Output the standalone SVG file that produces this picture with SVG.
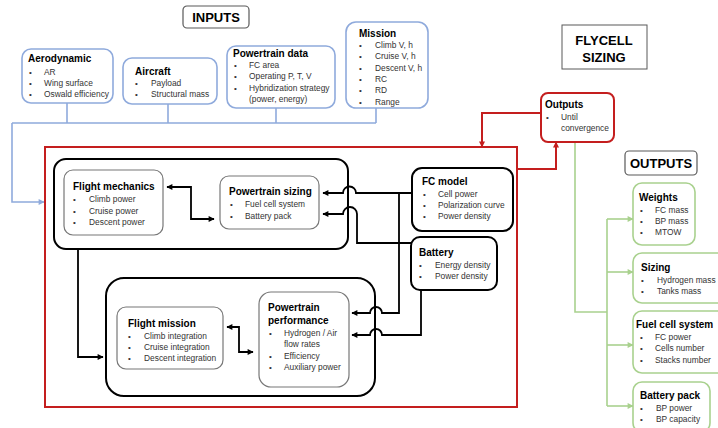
<svg xmlns="http://www.w3.org/2000/svg" width="718" height="428" viewBox="0 0 718 428">
<style>
text{font-family:"Liberation Sans",Arial,sans-serif}
.t{font-size:10px;font-weight:bold;fill:#000}
.h{font-size:13px;font-weight:bold;fill:#000}
.i{font-size:8.4px;fill:#333}
.b{font-size:8px;fill:#333}
.blue{fill:#fff;stroke:#8FAADC;stroke-width:1.6}
.red{fill:#fff;stroke:#C41E1E;stroke-width:2}
.grn{fill:#fff;stroke:#A9D18E;stroke-width:1.6}
.blk{fill:#fff;stroke:#000;stroke-width:2}
.gry{fill:#fff;stroke:#777;stroke-width:1.2}
.lb{fill:none;stroke:#8FAADC;stroke-width:1.6}
.lr{fill:none;stroke:#C41E1E;stroke-width:2}
.lg{fill:none;stroke:#A9D18E;stroke-width:1.6}
.lk{fill:none;stroke:#000;stroke-width:1.8}
</style>
<defs>
<marker id="ak" viewBox="0 0 10 10" refX="9" refY="5" markerWidth="7" markerHeight="6" markerUnits="userSpaceOnUse" orient="auto-start-reverse"><path d="M0 0L10 5L0 10z" fill="#000"/></marker>
<marker id="ar" viewBox="0 0 10 10" refX="9" refY="5" markerWidth="7" markerHeight="6" markerUnits="userSpaceOnUse" orient="auto"><path d="M0 0L10 5L0 10z" fill="#C41E1E"/></marker>
<marker id="ag" viewBox="0 0 10 10" refX="9" refY="5" markerWidth="7" markerHeight="6" markerUnits="userSpaceOnUse" orient="auto"><path d="M0 0L10 5L0 10z" fill="#A9D18E"/></marker>
<marker id="ab" viewBox="0 0 10 10" refX="9" refY="5" markerWidth="7" markerHeight="6" markerUnits="userSpaceOnUse" orient="auto"><path d="M0 0L10 5L0 10z" fill="#8FAADC"/></marker>
</defs>
<rect width="718" height="428" fill="#fff"/>

<g id="connectors">
<path class="lb" d="M67 103V123M168 104V123M276 108V123M376 108V123M12 123H376"/>
<path class="lb" d="M12 123V202H44" marker-end="url(#ab)"/>
<path class="lr" d="M541 113H482V147" marker-end="url(#ar)"/>
<path class="lr" d="M517 169H556V142" marker-end="url(#ar)"/>
<path class="lg" d="M575 142V312H607M607 219V406"/>
<path class="lg" d="M607 219H633" marker-end="url(#ag)"/>
<path class="lg" d="M607 272H633" marker-end="url(#ag)"/>
<path class="lg" d="M607 345H633" marker-end="url(#ag)"/>
<path class="lg" d="M607 406H633" marker-end="url(#ag)"/>
</g>

<g id="inputs-title"><rect x="183" y="6" width="66" height="22" rx="4" fill="#fff" stroke="#595959" stroke-width="1.2"/><text class="h" x="216" y="22" text-anchor="middle">INPUTS</text></g>

<g id="aerodynamic"><rect class="blue" x="22" y="49" width="91" height="54" rx="9"/>
<text class="t" x="28" y="62">Aerodynamic</text>
<text class="b" x="29" y="75">•</text><text class="i" x="44" y="75">AR</text>
<text class="b" x="29" y="86">•</text><text class="i" x="44" y="86">Wing surface</text>
<text class="b" x="29" y="97">•</text><text class="i" x="44" y="97">Oswald efficiency</text></g>

<g id="aircraft"><rect class="blue" x="123" y="58" width="94" height="46" rx="9"/>
<text class="t" x="135" y="75">Aircraft</text>
<text class="b" x="135" y="86">•</text><text class="i" x="151" y="86">Payload</text>
<text class="b" x="135" y="97">•</text><text class="i" x="151" y="97">Structural mass</text></g>

<g id="powertrain-data"><rect class="blue" x="227" y="46" width="108" height="62" rx="9"/>
<text class="t" x="233" y="57">Powertrain data</text>
<text class="b" x="234" y="68">•</text><text class="i" x="249" y="68">FC area</text>
<text class="b" x="234" y="79">•</text><text class="i" x="249" y="79">Operating P, T, V</text>
<text class="b" x="234" y="91">•</text><text class="i" x="249" y="91">Hybridization strategy</text>
<text class="i" x="249" y="102">(power, energy)</text></g>

<g id="mission"><rect class="blue" x="346" y="22" width="82" height="86" rx="10"/>
<text class="t" x="359" y="37">Mission</text>
<text class="b" x="359" y="48">•</text><text class="i" x="375" y="48">Climb V, h</text>
<text class="b" x="359" y="59">•</text><text class="i" x="375" y="59">Cruise V, h</text>
<text class="b" x="359" y="71">•</text><text class="i" x="375" y="71">Descent V, h</text>
<text class="b" x="359" y="82">•</text><text class="i" x="375" y="82">RC</text>
<text class="b" x="359" y="93">•</text><text class="i" x="375" y="93">RD</text>
<text class="b" x="359" y="105">•</text><text class="i" x="375" y="105">Range</text></g>

<g id="flycell-sizing"><rect x="562" y="25" width="85" height="44" fill="#fff" stroke="#595959" stroke-width="1"/>
<text class="h" x="604" y="45" text-anchor="middle">FLYCELL</text>
<text class="h" x="604" y="62" text-anchor="middle">SIZING</text></g>

<g id="outputs-loop"><rect class="red" x="541" y="93" width="73" height="49" rx="7"/>
<text class="t" x="545" y="108">Outputs</text>
<text class="b" x="546" y="120">•</text><text class="i" x="561" y="120">Until</text>
<text class="i" x="561" y="131">convergence</text></g>

<g id="sizing-loop"><rect x="45" y="147" width="472" height="260" fill="none" stroke="#C41E1E" stroke-width="2"/></g>

<g id="sizing-block"><rect class="blk" x="54" y="159" width="294" height="90" rx="12"/></g>
<g id="performance-block"><rect class="blk" x="106" y="278" width="269" height="118" rx="18"/></g>

<g id="inner-connectors">
<path class="lk" d="M167 187H191V219H214" marker-start="url(#ak)" marker-end="url(#ak)"/>
<path class="lk" d="M227 327H239V352H253" marker-start="url(#ak)" marker-end="url(#ak)"/>
<path class="lk" d="M78 249V357H103" marker-end="url(#ak)"/>
<path class="lk" d="M412 193H356A6.5 6.5 0 0 0 343 193H323" marker-end="url(#ak)"/>
<path class="lk" d="M412 243H357V214A7 7 0 0 0 343 214H323" marker-end="url(#ak)"/>
<path class="lk" d="M399 193V313H382A6 6 0 0 0 370 313H352" marker-end="url(#ak)"/>
<path class="lk" d="M421 290V335H382A6 6 0 0 0 370 335H352" marker-end="url(#ak)"/>
</g>

<g id="flight-mechanics"><rect class="gry" x="64" y="170" width="99" height="65" rx="9"/>
<text class="t" x="73" y="190">Flight mechanics</text>
<text class="b" x="73" y="202">•</text><text class="i" x="89" y="202">Climb power</text>
<text class="b" x="73" y="214">•</text><text class="i" x="89" y="214">Cruise power</text>
<text class="b" x="73" y="225">•</text><text class="i" x="89" y="225">Descent power</text></g>

<g id="powertrain-sizing"><rect class="gry" x="220" y="176" width="99" height="53" rx="9"/>
<text class="t" x="229" y="195">Powertrain sizing</text>
<text class="b" x="230" y="207">•</text><text class="i" x="245" y="207">Fuel cell system</text>
<text class="b" x="230" y="219">•</text><text class="i" x="245" y="219">Battery pack</text></g>

<g id="flight-mission"><rect class="gry" x="117" y="307" width="106" height="62" rx="9"/>
<text class="t" x="128" y="327">Flight mission</text>
<text class="b" x="128" y="339">•</text><text class="i" x="144" y="339">Climb integration</text>
<text class="b" x="128" y="350">•</text><text class="i" x="144" y="350">Cruise integration</text>
<text class="b" x="128" y="361">•</text><text class="i" x="144" y="361">Descent integration</text></g>

<g id="powertrain-performance"><rect class="gry" x="259" y="292" width="90" height="95" rx="12"/>
<text class="t" x="268" y="311">Powertrain</text>
<text class="t" x="268" y="324">performance</text>
<text class="b" x="269" y="336">•</text><text class="i" x="284" y="336">Hydrogen / Air</text>
<text class="i" x="284" y="347">flow rates</text>
<text class="b" x="269" y="359">•</text><text class="i" x="284" y="359">Efficiency</text>
<text class="b" x="269" y="370">•</text><text class="i" x="284" y="370">Auxiliary power</text></g>

<g id="fc-model"><rect class="blk" x="412" y="168" width="101" height="63" rx="10"/>
<text class="t" x="422" y="185">FC model</text>
<text class="b" x="423" y="197">•</text><text class="i" x="438" y="197">Cell power</text>
<text class="b" x="423" y="208">•</text><text class="i" x="438" y="208">Polarization curve</text>
<text class="b" x="423" y="219">•</text><text class="i" x="438" y="219">Power density</text></g>

<g id="battery"><rect class="blk" x="411" y="237" width="86" height="53" rx="9"/>
<text class="t" x="419" y="256">Battery</text>
<text class="b" x="419" y="268">•</text><text class="i" x="435" y="268">Energy density</text>
<text class="b" x="419" y="279">•</text><text class="i" x="435" y="279">Power density</text></g>

<g id="outputs-title"><rect x="625" y="151" width="72" height="24" rx="4" fill="#fff" stroke="#595959" stroke-width="1.2"/><text class="h" x="661" y="168" text-anchor="middle">OUTPUTS</text></g>

<g id="weights"><rect class="grn" x="633" y="183" width="62" height="62" rx="9"/>
<text class="t" x="639" y="201">Weights</text>
<text class="b" x="640" y="213">•</text><text class="i" x="655" y="213">FC mass</text>
<text class="b" x="640" y="224">•</text><text class="i" x="655" y="224">BP mass</text>
<text class="b" x="640" y="235">•</text><text class="i" x="655" y="235">MTOW</text></g>

<g id="sizing"><rect class="grn" x="633" y="253" width="95" height="50" rx="9"/>
<text class="t" x="641" y="271">Sizing</text>
<text class="b" x="641" y="283">•</text><text class="i" x="657" y="283">Hydrogen mass</text>
<text class="b" x="641" y="294">•</text><text class="i" x="657" y="294">Tanks mass</text></g>

<g id="fuel-cell-system"><rect class="grn" x="633" y="311" width="95" height="62" rx="9"/>
<text class="t" x="636" y="328">Fuel cell system</text>
<text class="b" x="640" y="340">•</text><text class="i" x="655" y="340">FC power</text>
<text class="b" x="640" y="351">•</text><text class="i" x="655" y="351">Cells number</text>
<text class="b" x="640" y="363">•</text><text class="i" x="655" y="363">Stacks number</text></g>

<g id="battery-pack"><rect class="grn" x="633" y="382" width="77" height="50" rx="9"/>
<text class="t" x="640" y="399">Battery pack</text>
<text class="b" x="640" y="411">•</text><text class="i" x="656" y="411">BP power</text>
<text class="b" x="640" y="422">•</text><text class="i" x="656" y="422">BP capacity</text></g>
</svg>
